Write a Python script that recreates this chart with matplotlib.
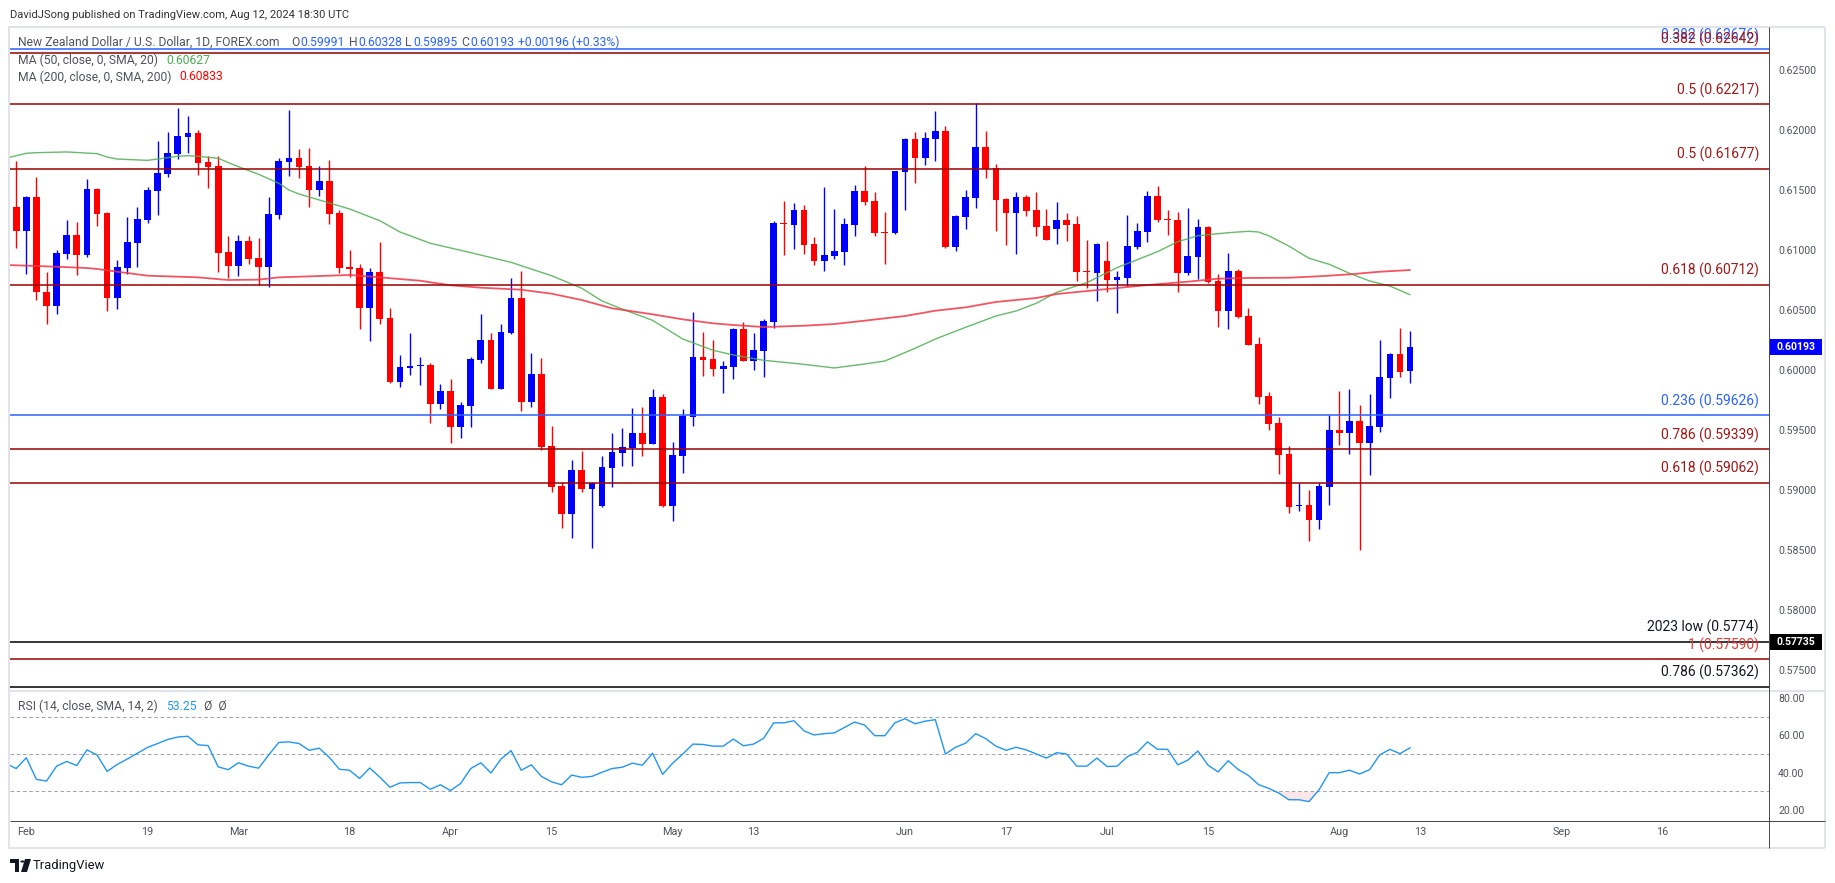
import matplotlib
matplotlib.use("Agg")
import matplotlib.pyplot as plt
from matplotlib.patches import Rectangle, Polygon, Circle
from matplotlib.lines import Line2D
from matplotlib.transforms import blended_transform_factory
import numpy as np
import pandas as pd

plt.rcParams['font.family'] = ['Roboto', 'DejaVu Sans']

# ---------------- data ----------------
first_day = '2024-01-31'          # bar index 0
opens = [0.61358, 0.61161, 0.61442, 0.60650, 0.60536, 0.60967, 0.61125, 0.60961, 0.61508, 0.61308,
         0.60603, 0.60853, 0.61061, 0.61253, 0.61494, 0.61636, 0.61803, 0.61944, 0.61975, 0.61733,
         0.61700, 0.60983, 0.60869, 0.61075, 0.60933, 0.60861, 0.61294, 0.61736, 0.61767, 0.61700,
         0.61503, 0.61575, 0.61308, 0.60861, 0.60850, 0.60519, 0.60817, 0.60433, 0.59903, 0.60019,
         0.60033, 0.60042, 0.59719, 0.59825, 0.59528, 0.59703, 0.60083, 0.60250, 0.59844, 0.60308,
         0.60600, 0.59736, 0.59967, 0.59367, 0.59033, 0.58803, 0.59167, 0.59011, 0.58869, 0.59186,
         0.59311, 0.59353, 0.59475, 0.59386, 0.59775, 0.58869, 0.59286, 0.59611, 0.60108, 0.60092,
         0.60008, 0.60025, 0.60342, 0.60075, 0.60158, 0.60400, 0.61225, 0.61208, 0.61333, 0.61050,
         0.60908, 0.60950, 0.60983, 0.61208, 0.61492, 0.61408, 0.61150, 0.61142, 0.61650, 0.61925,
         0.61767, 0.61925, 0.61992, 0.61025, 0.61275, 0.61433, 0.61858, 0.61683, 0.61425, 0.61308,
         0.61442, 0.61333, 0.61200, 0.61175, 0.61250, 0.61217, 0.60825, 0.60808, 0.60908, 0.60750,
         0.60767, 0.61025, 0.61150, 0.61450, 0.61258, 0.61250, 0.60808, 0.60942, 0.61192, 0.60742,
         0.60492, 0.60825, 0.60450, 0.60217, 0.59783, 0.59558, 0.59300, 0.58867, 0.58875, 0.58750,
         0.59025, 0.59500, 0.59475, 0.59575, 0.59392, 0.59525, 0.59933, 0.60133, 0.59991]
closes = [0.61161, 0.61442, 0.60647, 0.60536, 0.60975, 0.61125, 0.60961, 0.61508, 0.61303, 0.60603,
          0.60858, 0.61067, 0.61258, 0.61500, 0.61642, 0.61808, 0.61950, 0.61975, 0.61728, 0.61694,
          0.60978, 0.60869, 0.61075, 0.60928, 0.60861, 0.61300, 0.61742, 0.61767, 0.61694, 0.61503,
          0.61575, 0.61303, 0.60853, 0.60844, 0.60519, 0.60817, 0.60428, 0.59903, 0.60025, 0.60033,
          0.60042, 0.59719, 0.59825, 0.59528, 0.59708, 0.60092, 0.60250, 0.59844, 0.60317, 0.60600,
          0.59736, 0.59967, 0.59361, 0.59028, 0.58803, 0.59167, 0.59011, 0.59058, 0.59192, 0.59317,
          0.59361, 0.59475, 0.59386, 0.59775, 0.58869, 0.59292, 0.59617, 0.60108, 0.60083, 0.60008,
          0.60033, 0.60342, 0.60075, 0.60167, 0.60408, 0.61225, 0.61217, 0.61333, 0.61042, 0.60908,
          0.60958, 0.60992, 0.61217, 0.61492, 0.61400, 0.61142, 0.61142, 0.61658, 0.61925, 0.61767,
          0.61933, 0.61992, 0.61025, 0.61283, 0.61442, 0.61858, 0.61675, 0.61417, 0.61308, 0.61442,
          0.61325, 0.61192, 0.61083, 0.61250, 0.61208, 0.60817, 0.60817, 0.61050, 0.60750, 0.60775,
          0.61033, 0.61158, 0.61450, 0.61250, 0.61250, 0.60808, 0.60950, 0.61192, 0.60733, 0.60492,
          0.60825, 0.60442, 0.60208, 0.59775, 0.59550, 0.59292, 0.58858, 0.58875, 0.58750, 0.59033,
          0.59500, 0.59475, 0.59575, 0.59392, 0.59533, 0.59942, 0.60133, 0.59983, 0.60193]
highs = [0.61742, 0.61450, 0.61608, 0.60817, 0.61000, 0.61250, 0.61233, 0.61592, 0.61517, 0.61319,
         0.60917, 0.61275, 0.61358, 0.61525, 0.61908, 0.61983, 0.62183, 0.62117, 0.62000, 0.61783,
         0.61783, 0.61117, 0.61125, 0.61117, 0.61100, 0.61442, 0.61767, 0.62167, 0.61842, 0.61850,
         0.61700, 0.61750, 0.61333, 0.61000, 0.60883, 0.60850, 0.61067, 0.60517, 0.60125, 0.60308,
         0.60108, 0.60058, 0.59883, 0.59925, 0.59733, 0.60108, 0.60467, 0.60308, 0.60383, 0.60767,
         0.60825, 0.60142, 0.60100, 0.59533, 0.59067, 0.59250, 0.59328, 0.59070, 0.59283, 0.59475,
         0.59519, 0.59686, 0.59694, 0.59842, 0.59797, 0.59403, 0.59678, 0.60483, 0.60317, 0.60250,
         0.60075, 0.60350, 0.60400, 0.60308, 0.60425, 0.61242, 0.61408, 0.61392, 0.61375, 0.61108,
         0.61525, 0.61342, 0.61267, 0.61542, 0.61700, 0.61483, 0.61317, 0.61660, 0.61933, 0.61983,
         0.61983, 0.62158, 0.62033, 0.61290, 0.61500, 0.62225, 0.61992, 0.61717, 0.61430, 0.61483,
         0.61458, 0.61483, 0.61342, 0.61400, 0.61308, 0.61283, 0.61083, 0.61060, 0.61075, 0.60825,
         0.61292, 0.61225, 0.61492, 0.61533, 0.61333, 0.61317, 0.61350, 0.61258, 0.61200, 0.60800,
         0.60975, 0.60842, 0.60517, 0.60275, 0.59817, 0.59608, 0.59367, 0.59058, 0.59000, 0.59058,
         0.59625, 0.59825, 0.59842, 0.59708, 0.59800, 0.60250, 0.60142, 0.60350, 0.60328]
lows = [0.61019, 0.60803, 0.60583, 0.60386, 0.60469, 0.60928, 0.60794, 0.60944, 0.61203, 0.60494,
        0.60511, 0.60803, 0.60861, 0.61228, 0.61294, 0.61611, 0.61761, 0.61811, 0.61628, 0.61519,
        0.60819, 0.60767, 0.60786, 0.60886, 0.60706, 0.60694, 0.61261, 0.61619, 0.61603, 0.61361,
        0.61453, 0.61219, 0.60811, 0.60778, 0.60344, 0.60244, 0.60386, 0.59894, 0.59861, 0.59961,
        0.59878, 0.59561, 0.59678, 0.59394, 0.59436, 0.59528, 0.60058, 0.59844, 0.59844, 0.60300,
        0.59661, 0.59694, 0.59336, 0.58986, 0.58686, 0.58603, 0.58986, 0.58519, 0.58861, 0.59028,
        0.59203, 0.59203, 0.59286, 0.59386, 0.58861, 0.58744, 0.59144, 0.59536, 0.59950, 0.59950,
        0.59808, 0.59925, 0.60075, 0.60000, 0.59942, 0.60350, 0.60958, 0.61008, 0.60967, 0.60875,
        0.60825, 0.60925, 0.60875, 0.61117, 0.61375, 0.61117, 0.60883, 0.61133, 0.61333, 0.61558,
        0.61708, 0.61742, 0.61017, 0.60992, 0.61175, 0.61350, 0.61600, 0.61158, 0.61042, 0.60967,
        0.61283, 0.61117, 0.61083, 0.61050, 0.61075, 0.60742, 0.60683, 0.60575, 0.60650, 0.60475,
        0.60700, 0.61008, 0.61067, 0.61233, 0.61125, 0.60650, 0.60792, 0.60758, 0.60725, 0.60358,
        0.60342, 0.60433, 0.60208, 0.59717, 0.59500, 0.59133, 0.58808, 0.58825, 0.58575, 0.58675,
        0.58875, 0.59375, 0.59300, 0.58500, 0.59125, 0.59483, 0.59767, 0.59942, 0.59895]

# moving averages (bar index, value)
ma50_bars = [-1, 1, 2, 5, 8, 9, 10, 13, 14, 16, 17, 18, 20, 22, 24, 26, 27, 28, 30, 33, 36, 38, 41,
             45, 49, 53, 56, 58, 60, 63, 66, 69, 71, 74, 78, 81, 84, 86, 89, 91, 94, 97, 99, 101,
             103, 106, 109, 113, 115, 117, 120, 122, 123, 124, 126, 128, 130, 132, 134, 136, 138]
ma50_vals = [0.61765, 0.61806, 0.61811, 0.61817, 0.61803, 0.61775, 0.61758, 0.61747, 0.61758, 0.61781,
             0.61786, 0.61781, 0.61764, 0.61694, 0.61631, 0.61556, 0.61500, 0.61467, 0.61417, 0.61342,
             0.61244, 0.61150, 0.61056, 0.60978, 0.60897, 0.60786, 0.60681, 0.60575, 0.60508, 0.60414,
             0.60258, 0.60164, 0.60125, 0.60081, 0.60047, 0.60017, 0.60050, 0.60075, 0.60181, 0.60258,
             0.60356, 0.60450, 0.60492, 0.60556, 0.60647, 0.60728, 0.60853, 0.60986, 0.61069, 0.61119,
             0.61144, 0.61156, 0.61150, 0.61119, 0.61033, 0.60931, 0.60881, 0.60806, 0.60742, 0.60700,
             0.60627]
ma200_bars = [-1, 3, 7, 8, 10, 12, 13, 18, 21, 24, 26, 30, 33, 36, 40, 43, 46, 50, 53, 56, 59, 63,
              66, 69, 71, 74, 78, 81, 84, 88, 91, 94, 97, 101, 103, 106, 109, 112, 116, 119, 122,
              126, 129, 132, 135, 138]
ma200_vals = [0.60875, 0.60864, 0.60850, 0.60842, 0.60819, 0.60797, 0.60786, 0.60772, 0.60750, 0.60753,
              0.60772, 0.60783, 0.60792, 0.60772, 0.60744, 0.60706, 0.60686, 0.60669, 0.60636, 0.60583,
              0.60514, 0.60464, 0.60422, 0.60389, 0.60375, 0.60358, 0.60369, 0.60383, 0.60411, 0.60450,
              0.60494, 0.60522, 0.60567, 0.60600, 0.60633, 0.60658, 0.60683, 0.60708, 0.60736, 0.60761,
              0.60767, 0.60769, 0.60781, 0.60797, 0.60819, 0.60833]

# RSI(14) from bar -1 (Jan 30) to bar 138 (Aug 12)
rsi_first_bar = -1
rsi_vals = [44.9, 42.2, 48.0, 36.4, 35.5, 43.5, 46.0, 43.8, 52.2, 49.5, 40.7, 44.4, 47.3, 50.4, 53.5,
            55.6, 57.8, 59.1, 59.5, 54.9, 54.5, 43.1, 41.6, 45.3, 43.5, 42.4, 49.5, 56.2, 56.5, 55.6,
            52.0, 53.1, 48.2, 41.8, 41.3, 36.9, 42.5, 37.6, 32.2, 34.5, 34.7, 34.7, 31.1, 33.5, 30.4,
            34.2, 42.2, 45.3, 39.8, 47.3, 51.8, 41.3, 44.2, 38.0, 35.1, 33.5, 38.7, 37.5, 38.0, 40.2,
            42.2, 42.9, 45.1, 44.0, 50.4, 39.1, 45.1, 50.0, 55.3, 55.1, 54.2, 54.2, 58.0, 54.4, 55.3,
            58.4, 66.7, 66.7, 67.8, 62.4, 60.2, 60.9, 61.3, 64.2, 67.1, 65.5, 59.8, 59.8, 66.7, 68.9,
            66.2, 67.6, 68.4, 50.0, 53.6, 55.8, 60.9, 58.2, 54.2, 52.0, 53.6, 52.2, 50.0, 47.8, 50.7,
            50.0, 43.5, 43.5, 47.8, 43.3, 43.5, 48.5, 50.9, 56.5, 52.5, 52.5, 44.2, 46.7, 51.6, 44.0,
            40.4, 46.4, 41.6, 38.5, 33.6, 31.6, 29.1, 25.5, 25.5, 24.5, 30.9, 40.0, 40.0, 41.3, 39.3,
            41.6, 49.5, 52.5, 50.2, 53.3]

# Fibonacci / reference levels
fib_levels = [0.62676, 0.62642, 0.62217, 0.61677, 0.60712, 0.59626, 0.59339, 0.59062, 0.57735, 0.57590, 0.57362]
fib_labels = ['0.382 (0.62676)', '0.382 (0.62642)', '0.5 (0.62217)', '0.5 (0.61677)', '0.618 (0.60712)',
              '0.236 (0.59626)', '0.786 (0.59339)', '0.618 (0.59062)', '2023 low (0.5774)', '1 (0.57590)',
              '0.786 (0.57362)']
DR, BL, BK = '#990000', '#2962ff', '#000000'
fib_line_colors = [BL, DR, DR, DR, DR, BL, DR, DR, BK, DR, BK]
fib_text_colors = [BL, '#a31515', '#a31515', '#a31515', '#a31515', BL, '#a31515', '#a31515', '#131722',
                   '#e53935', '#131722']

price_ticks = [0.575, 0.580, 0.585, 0.590, 0.595, 0.600, 0.605, 0.610, 0.615, 0.620, 0.625]
rsi_ticks = [20, 40, 60, 80]
tick_dates = ['2024-02-01', '2024-02-19', '2024-03-01', '2024-03-18', '2024-04-01', '2024-04-15',
              '2024-05-01', '2024-05-13', '2024-06-03', '2024-06-17', '2024-07-01', '2024-07-15',
              '2024-08-01', '2024-08-13', '2024-09-02', '2024-09-16']
tick_labels = ['Feb', '19', 'Mar', '18', 'Apr', '15', 'May', '13', 'Jun', '17', 'Jul', '15',
               'Aug', '13', 'Sep', '16']

# ---------------- layout ----------------
W, H, DPI = 1835, 883, 100
PT = 72.0 / DPI
fig = plt.figure(figsize=(W / DPI, H / DPI), dpi=DPI)
fig.patch.set_facecolor('white')

def fx(px):
    return px / W

def fy(py):
    return 1 - py / H

L, R = 10, 1769
MT, MB = 27, 689
RT, RB = 692, 820
ax = fig.add_axes([fx(L), fy(MB), fx(R) - fx(L), fy(MT) - fy(MB)])
ax2 = fig.add_axes([fx(L), fy(RB), fx(R) - fx(L), fy(RT) - fy(RB)])

xmin, xmax = -0.614, 173.54
ax.set_xlim(xmin, xmax)
ax2.set_xlim(xmin, xmax)
ax.set_ylim(0.573417, 0.628583)
ax2.set_ylim(14.64, 83.21)

for a in (ax, ax2):
    for s in a.spines.values():
        s.set_visible(False)
    a.set_facecolor('none')

grey_txt = '#50535e'
ax.yaxis.tick_right()
ax.set_yticks(price_ticks)
ax.set_yticklabels([f'{v:.5f}' for v in price_ticks])
ax.tick_params(axis='y', length=0, pad=9 * PT, labelsize=7.6, labelcolor=grey_txt)
ax.set_xticks([])

ax2.yaxis.tick_right()
ax2.set_yticks(rsi_ticks)
ax2.set_yticklabels([f'{v:.2f}' for v in rsi_ticks])
ax2.tick_params(axis='y', length=0, pad=9 * PT, labelsize=7.6, labelcolor=grey_txt)
days = pd.bdate_range(first_day, '2024-09-30')
tick_pos = [days.get_loc(pd.Timestamp(d)) for d in tick_dates]
ax2.set_xticks(tick_pos)
ax2.set_xticklabels(tick_labels)
ax2.tick_params(axis='x', length=0, pad=7 * PT, labelsize=7.8, labelcolor=grey_txt)

# ---------------- candles ----------------
o = np.array(opens); c = np.array(closes)
h = np.maximum(np.array(highs), np.maximum(o, c))
lo = np.minimum(np.array(lows), np.minimum(o, c))
idx = np.arange(len(o))
up = c >= o
cols = np.where(up, '#0000ff', '#ff0000')
ax.vlines(idx, lo, h, colors=cols, lw=1.0, zorder=3)
body_bot = np.minimum(o, c)
body_h = np.maximum(np.abs(c - o), 0.00009)
ax.bar(idx, body_h, bottom=body_bot, width=0.66, color=cols, linewidth=0, zorder=4)

# moving averages
ax.plot(ma50_bars, ma50_vals, color='#4caf50', lw=1.0, alpha=0.85, zorder=5, solid_capstyle='round')
ax.plot(ma200_bars, ma200_vals, color='#f23645', lw=1.3, alpha=0.85, zorder=5, solid_capstyle='round')

# fib levels
blend = blended_transform_factory(ax.transAxes, ax.transData)
lab_x = (1759 - L) / (R - L)
for v, lab, lc, tc in zip(fib_levels, fib_labels, fib_line_colors, fib_text_colors):
    ax.axhline(v, color=lc, lw=1.1, zorder=6)
    ax.annotate(lab, xy=(lab_x, v), xycoords=blend, xytext=(0, 14 * PT), textcoords='offset points',
                ha='right', va='center', fontsize=10, color=tc, zorder=7, annotation_clip=False)

# price label boxes on the axis
def axis_box(val, fc):
    bw = 53 / (R - L)
    hh = 8 / 12000.0
    ax.add_patch(Rectangle((1.0, val - hh), bw, 2 * hh, transform=blend, facecolor=fc,
                           edgecolor='none', clip_on=False, zorder=8))
    ax.text(1.0 + bw / 2, val, f'{val:.5f}', transform=blend, ha='center', va='center',
            color='white', fontsize=7.6, fontweight='bold', clip_on=False, zorder=9)

axis_box(closes[-1], '#0000ff')
axis_box(fib_levels[8], '#000000')

# ---------------- RSI ----------------
rsi_x = np.arange(rsi_first_bar, rsi_first_bar + len(rsi_vals))
rsi = np.array(rsi_vals)
for lvl in (70, 50, 30):
    ax2.axhline(lvl, color='#a3a6ae', lw=0.75, dashes=(3.5, 2.5), zorder=1)
ax2.fill_between(rsi_x, rsi, 30, where=rsi < 30, interpolate=True, color='#f23645', alpha=0.12,
                 linewidth=0, zorder=2)
ax2.plot(rsi_x, rsi, color='#2196f3', lw=1.0, zorder=3)

# ---------------- frame lines ----------------
def fline(x0, y0, x1, y1, color, lw_px):
    fig.add_artist(Line2D([fx(x0), fx(x1)], [fy(y0), fy(y1)], transform=fig.transFigure,
                          color=color, lw=lw_px * PT, solid_capstyle='butt'))

border = '#e0e3eb'
fline(8, 27, 1825, 27, border, 2)
fline(9, 27, 9, 848, border, 2)
fline(8, 848, 1825, 848, border, 2)
fline(1825, 27, 1825, 848, border, 2)
fline(10, 691, 1825, 691, border, 2)
fline(R, 27, R, 848, '#4a4a4a', 1)
fline(10, 820.5, 1825, 820.5, '#4a4a4a', 1)

# ---------------- texts ----------------
fig.text(fx(10), fy(15), 'DavidJSong published on TradingView.com, Aug 12, 2024 18:30 UTC',
         fontsize=8.0, color='#333333', va='center', ha='left')

LEG_FS = 8.7
leg_y = 42
pieces = [(18, 'New Zealand Dollar / U.S. Dollar, 1D, FOREX.com', '#50535e'),
          (291, 'O', '#50535e'), (300, '0.59991', '#2962ff'),
          (349, 'H', '#50535e'), (358, '0.60328', '#2962ff'),
          (405, 'L', '#50535e'), (413, '0.59895', '#2962ff'),
          (461, 'C', '#50535e'), (470, '0.60193', '#2962ff'),
          (518, '+0.00196 (+0.33%)', '#2962ff')]
for px, t, col in pieces:
    fig.text(fx(px), fy(leg_y), t, fontsize=LEG_FS, color=col, va='center', ha='left')
fig.text(fx(18), fy(60), 'MA (50, close, 0, SMA, 20)', fontsize=LEG_FS, color='#50535e', va='center')
fig.text(fx(166), fy(60), '0.60627', fontsize=LEG_FS, color='#4caf50', va='center')
fig.text(fx(18), fy(77), 'MA (200, close, 0, SMA, 200)', fontsize=LEG_FS, color='#50535e', va='center')
fig.text(fx(179), fy(77), '0.60833', fontsize=LEG_FS, color='#ff0000', va='center')

fig.text(fx(18), fy(706), 'RSI (14, close, SMA, 14, 2)', fontsize=LEG_FS, color='#50535e', va='center')
fig.text(fx(166), fy(706), '53.25', fontsize=LEG_FS, color='#2196f3', va='center')
fig.text(fx(204), fy(706), '\u00d8  \u00d8', fontsize=LEG_FS, color='#50535e', va='center')

# TradingView logo + text
logo_col = '#131722'
def P(pts):
    return [(fx(a), fy(b)) for a, b in pts]
fig.add_artist(Polygon(P([(10, 859), (19, 859), (19, 872), (15, 872), (15, 863), (10, 863)]),
                       closed=True, transform=fig.transFigure, facecolor=logo_col, edgecolor='none'))
fig.add_artist(Polygon(P([(25, 859), (31, 859), (27, 872), (21, 872)]), closed=True,
                       transform=fig.transFigure, facecolor=logo_col, edgecolor='none'))
fig.add_artist(Circle((fx(22.5), fy(861.5)), 2.2 / W, transform=fig.transFigure,
                      facecolor=logo_col, edgecolor='none'))
fig.text(fx(33), fy(865), 'TradingView', fontsize=9.4, color=logo_col, va='center', ha='left')

fig.savefig('out.png', dpi=DPI, facecolor='white')
